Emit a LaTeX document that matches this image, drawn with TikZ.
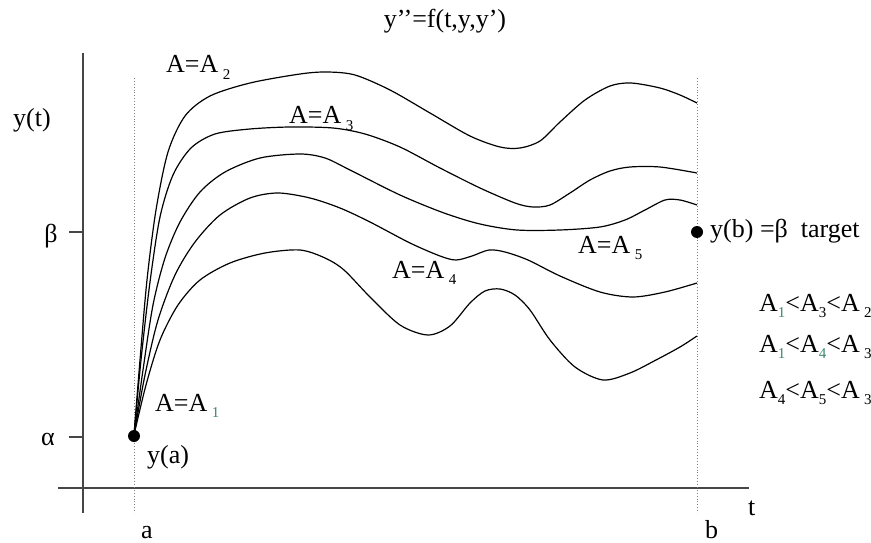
\documentclass[tikz,border=0pt]{standalone}
\usepackage{fontspec}
\setmainfont{Liberation Serif}
\definecolor{subgreen}{RGB}{60,135,105}
\definecolor{axisgray}{RGB}{70,70,70}
\newcommand{\subs}[2][black]{\raisebox{-6.5pt}{\fontsize{15}{15}\selectfont\textcolor{#1}{#2}}}
\tikzset{
  lbl/.style={inner sep=0pt, anchor=base west, font=\fontsize{26}{28}\selectfont},
  axisline/.style={draw=axisgray, line width=1.3pt},
  guide/.style={draw=gray, line width=0.9pt, dotted},
  traj/.style={draw=black, line width=1.2pt, line join=round},
  pt/.style={circle, fill=black, inner sep=0pt, minimum size=12pt}
}
\begin{document}
\begin{tikzpicture}[x=1pt,y=-1pt]
\useasboundingbox (0,0) rectangle (871,543);
% axes
\coordinate (vtop) at (83,53);
\coordinate (vbot) at (83,513);
\coordinate (hl) at (58,488);
\coordinate (hr) at (749,488);
\draw[axisline] (vtop) -- (vbot);
\draw[axisline] (hl) -- (hr);
% ticks
\coordinate (tb1) at (69,232); \coordinate (tb2) at (83,232);
\coordinate (ta1) at (69,437); \coordinate (ta2) at (83,437);
\draw[axisline] (tb1) -- (tb2);
\draw[axisline] (ta1) -- (ta2);
% dotted guides
\coordinate (ga1) at (134,78); \coordinate (ga2) at (134,513);
\coordinate (gb1) at (697,78); \coordinate (gb2) at (697,513);
\draw[guide] (ga1) -- (ga2);
\draw[guide] (gb1) -- (gb2);
% trajectories
\draw[traj] plot[smooth, tension=0.5] coordinates {(134,435) (140,360) (147,280) (156,210) (168,152) (185,116) (210,96) (250,83) (300,74) (327,72) (355,75) (390,90) (430,113) (470,136) (500,147) (520,148) (540,141) (560,122) (585,100) (610,86) (631,83) (660,88) (680,95) (697,103)};
\draw[traj] plot[smooth, tension=0.5] coordinates {(134,435) (141,360) (150,282) (160,217) (173,175) (191,148) (215,134) (250,129) (290,127) (333,128) (365,134) (400,147) (440,168) (480,188) (515,203) (533,207) (550,205) (570,193) (590,180) (610,171) (630,167) (660,167) (697,173)};
\draw[traj] plot[smooth, tension=0.5] coordinates {(134,435) (143,370) (153,305) (165,258) (180,222) (200,192) (225,172) (260,158) (300,154) (325,158) (350,170) (400,195) (444,213) (480,224) (517,230) (560,230) (600,227) (625,220) (645,210) (665,200) (680,200) (697,205)};
\draw[traj] plot[smooth, tension=0.5] coordinates {(134,435) (145,375) (158,320) (175,275) (195,242) (220,215) (250,198) (278,193) (310,198) (340,208) (370,222) (410,243) (440,256) (456,260) (472,256) (489,250) (505,252) (528,260) (560,276) (600,292) (633,297) (665,292) (697,283)};
\draw[traj] plot[smooth, tension=0.5] coordinates {(134,435) (146,385) (160,340) (178,305) (200,280) (230,263) (265,253) (300,250) (325,258) (344,270) (370,297) (400,325) (428,335) (450,326) (470,303) (485,291) (500,289) (515,295) (530,310) (550,340) (575,367) (603,380) (630,373) (656,360) (680,347) (697,336)};
% points
\node[pt] (ya) at (134,436) {};
\node[pt] (yb) at (697,232) {};
% labels
\node[lbl, anchor=base] (title) at (445,28) {y’’=f(t,y,y’)};
\node[lbl] (yt) at (13,126) {y(t)};
\node[lbl, anchor=center] (beta) at (51,236) {β};
\node[lbl, anchor=center] (alpha) at (48,439) {α};
\node[lbl] (A2) at (166,73) {A=A\,\subs{2}};
\node[lbl] (A3) at (289,124) {A=A\,\subs{3}};
\node[lbl] (A4) at (392,278) {A=A\,\subs{4}};
\node[lbl] (A5) at (578,253) {A=A\,\subs{5}};
\node[lbl] (A1) at (155,411) {A=A\,\subs[subgreen]{1}};
\node[lbl] (yalbl) at (147,463) {y(a)};
\node[lbl, anchor=west] (yblbl) at (710,231) {y(b) =β \ target};
\node[lbl] (r1) at (759,311) {A\subs[subgreen]{1}<A\subs{3}<A\,\subs{2}};
\node[lbl] (r2) at (759,352) {A\subs[subgreen]{1}<A\subs[subgreen]{4}<A\,\subs{3}};
\node[lbl] (r3) at (759,398) {A\subs{4}<A\subs{5}<A\,\subs{3}};
\node[lbl] (tl) at (748,515) {t};
\node[lbl] (al) at (141,538) {a};
\node[lbl] (bl) at (705,538) {b};
\end{tikzpicture}
\end{document}
